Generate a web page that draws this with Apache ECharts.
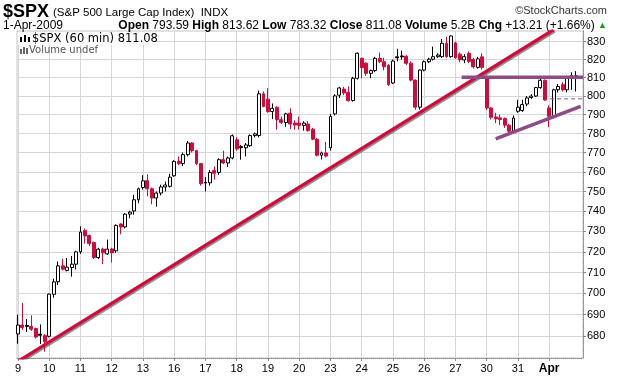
<!DOCTYPE html>
<html><head><meta charset="utf-8">
<script src="https://cdn.jsdelivr.net/npm/echarts@6/dist/echarts.min.js"></script>
<style>html,body{margin:0;padding:0;background:#fff}#c{width:620px;height:376px}</style>
</head><body><div id="c"></div>
<script>
// Trading days (7 hourly bars each)
const dayLabels = ['9','10','11','12','13','16','17','18','19','20','23','24','25','26','27','30','31','Apr'];
const barsPerDay = 7;

const opens = [
 681.1,685.2,685.0,684.6,683.6,681.0,680.3,
 680.0,699.6,705.6,713.2,711.0,712.4,714.0,
 720.0,730.4,728.0,724.5,717.2,721.3,719.0,
 721.4,720.5,733.7,732.2,738.6,740.2,745.8,
 752.0,755.5,751.4,746.7,749.2,752.3,752.6,
 758.0,765.4,764.3,768.9,775.0,771.0,764.3,
 754.6,754.4,760.7,759.7,766.3,764.6,767.2,
 776.7,773.2,772.5,773.6,778.9,778.9,801.2,
 798.3,791.7,794.0,787.3,785.8,790.8,785.5,
 785.5,784.3,785.0,782.3,777.0,768.6,769.8,
 772.5,790.4,800.5,803.8,802.0,797.6,809.7,
 820.7,818.0,812.4,813.9,820.7,818.8,816.9,
 807.1,821.5,822.0,821.8,818.0,808.7,794.0,
 814.2,818.8,820.2,821.6,821.6,829.1,821.6,
 829.3,823.0,819.8,823.5,820.0,815.7,821.5,
 810.5,793.6,788.8,788.3,788.0,784.4,781.2,
 791.8,792.2,795.7,799.2,800.0,804.6,808.6,
 793.59,789.3,803.4,806.2,803.4,809.8,810.5
];
const closes = [
 685.2,684.1,684.6,683.3,679.7,680.5,677.5,
 699.7,705.5,713.2,711.6,712.6,714.0,720.0,
 729.7,727.8,724.0,717.3,721.3,719.5,721.3,
 719.5,733.0,732.2,738.6,739.6,745.8,751.4,
 755.4,751.4,746.7,749.2,752.3,753.3,757.3,
 765.4,764.3,768.9,775.0,771.0,764.3,754.0,
 754.3,759.7,759.3,766.3,764.6,767.2,778.8,
 771.9,772.6,774.0,778.9,779.8,801.2,794.3,
 791.7,793.4,787.3,785.8,790.4,785.0,784.5,
 784.3,785.5,781.5,777.0,768.6,769.8,768.2,
 789.0,800.1,804.4,801.7,797.6,809.7,823.5,
 815.5,812.4,813.9,820.7,818.8,816.0,806.2,
 819.2,821.0,821.5,817.9,808.7,794.0,814.2,
 818.8,820.2,821.6,822.5,829.1,821.6,833.2,
 821.0,819.9,821.6,819.0,816.0,820.4,815.7,
 793.6,788.6,787.8,787.4,784.4,781.2,788.2,
 794.0,795.4,799.0,800.0,804.6,808.6,797.87,
 789.1,803.4,805.2,803.4,809.8,811.1,811.08
];
const lows = [
 676.6,683.0,682.0,682.5,679.0,676.5,673.0,
 679.5,698.0,704.0,711.0,710.5,708.0,711.5,
 719.0,724.0,722.8,716.5,716.5,714.0,718.5,
 714.8,719.5,728.6,731.5,736.5,738.3,744.0,
 751.0,747.5,743.5,742.3,748.0,750.0,752.0,
 757.5,763.5,763.0,768.0,770.0,763.5,753.0,
 750.0,753.0,756.0,758.5,764.0,762.5,766.5,
 771.0,766.3,768.0,773.0,778.0,778.0,794.0,
 791.0,787.6,782.0,785.0,783.5,782.4,782.0,
 782.0,781.5,781.0,776.5,768.0,766.4,767.5,
 771.0,789.5,799.0,800.5,797.0,797.0,809.0,
 809.7,811.0,809.7,813.0,818.0,814.0,805.5,
 806.5,819.0,820.0,817.0,808.0,792.6,792.7,
 813.5,818.0,819.5,821.0,821.0,821.0,821.0,
 820.5,818.5,818.0,818.0,815.0,815.0,814.5,
 792.5,787.5,785.5,784.5,783.0,779.5,780.5,
 791.0,791.5,794.5,798.5,799.5,804.0,797.5,
 783.32,788.0,802.0,802.5,802.0,803.4,802.5
];
const highs = [
 690.0,695.5,688.0,689.7,684.0,685.5,681.0,
 700.0,707.0,715.3,716.6,717.0,718.0,720.5,
 732.5,731.5,728.5,725.0,722.0,722.0,726.0,
 722.0,733.5,734.0,739.0,740.3,748.3,752.0,
 758.3,758.8,752.0,750.0,753.5,755.0,759.0,
 766.0,768.0,770.0,776.0,775.5,771.5,764.5,
 757.3,761.0,762.8,767.0,771.0,768.0,779.5,
 778.0,774.0,775.0,779.5,780.5,803.0,802.5,
 804.3,796.0,794.5,789.0,791.0,793.4,787.0,
 789.0,786.5,786.5,783.0,777.5,770.5,775.5,
 790.4,801.0,805.0,805.0,805.3,810.5,824.0,
 821.0,818.5,814.5,821.5,823.9,821.0,817.5,
 820.0,826.0,825.0,822.5,819.0,809.0,814.5,
 819.5,821.0,827.2,823.5,831.5,832.8,833.5,
 830.0,824.0,823.0,824.5,821.0,821.5,823.5,
 811.0,794.0,791.0,790.0,788.5,785.0,789.6,
 798.0,798.0,800.0,801.0,805.0,809.7,809.0,
 795.0,804.0,806.5,807.5,811.0,813.0,813.62
];
// bars drawn filled black (close below open but above prior close)
const blackBars = [2,5,42,50,85,86];

const yTicks = [680,690,700,710,720,730,740,750,760,770,780,790,800,810,820,830];

// Annotation lines: [bar index, price]
const trendRed = [[0,668.6],[120,836.8]];
const resistance = [[99.4,810.2],[126.6,810.2]];
const support = [[107,777.2],[126.05,794.5]];
const dashedLevel = [[119.2,798.5],[126.6,798.5]];

const RED = '#d20a3c';
const PURPLE = '#8d4c86';
const dayTickIdx = dayLabels.map((d,i)=>i*barsPerDay);

const candleData = opens.map((o,i)=>{
  const item = {value:[i,o,closes[i],lows[i],highs[i]]};
  if (blackBars.indexOf(i) >= 0) item.itemStyle = {color:'#000',color0:'#000',borderColor:'#000',borderColor0:'#000'};
  return item;
});

const chart = echarts.init(document.getElementById('c'), null, {renderer:'canvas'});
const FONT = '"Liberation Sans", Arial, sans-serif';
chart.setOption({
  animation:false,
  backgroundColor:'#fff',
  grid:{left:17,right:37,top:31,bottom:18,show:true,borderColor:'#c4c4c4',borderWidth:1},
  xAxis:{
    type:'value', min:-0.22, max:126.57,
    axisLine:{show:true,onZero:false,lineStyle:{color:'#888',type:'dotted'}},
    axisTick:{show:true,customValues:dayTickIdx,length:3,lineStyle:{color:'#888'}},
    axisLabel:{customValues:dayTickIdx,margin:5,color:'#000',fontSize:11,fontFamily:FONT,
      formatter:v=>{const l=dayLabels[Math.round(v/barsPerDay)]; return l==='Apr'?'{b|Apr}':l;},
      rich:{b:{fontWeight:'bold',fontSize:12,fontFamily:FONT,color:'#000'}}},
    splitLine:{show:true,lineStyle:{color:'#d6d6d6',width:1}}
  },
  yAxis:{
    type:'log', logBase:10, position:'right', min:670.1, max:836,
    axisLine:{show:true,onZero:false,lineStyle:{color:'#888',type:'dotted'}},
    axisTick:{show:true,customValues:yTicks,length:3,lineStyle:{color:'#888'}},
    axisLabel:{customValues:yTicks,margin:4,color:'#000',fontSize:11,fontFamily:FONT},
    splitLine:{show:true,lineStyle:{color:'#d6d6d6',width:1}}
  },
  series:[
    {type:'candlestick', data:candleData, encode:{x:0,y:[1,2,3,4]}, barWidth:3.4, z:3,
     itemStyle:{color:'#fff',color0:RED,borderColor:'#000',borderColor0:RED,borderWidth:1}},
    {type:'line', data:trendRed, symbol:'none', clip:true, z:4,
     lineStyle:{color:RED,width:3.2,shadowColor:'rgba(70,70,70,0.6)',shadowBlur:0,shadowOffsetX:1,shadowOffsetY:1.5}},
    {type:'line', data:resistance, symbol:'none', clip:true, z:4, lineStyle:{color:PURPLE,width:3.5}},
    {type:'line', data:support, symbol:'none', clip:true, z:4, lineStyle:{color:PURPLE,width:3.5}},
    {type:'line', data:dashedLevel, symbol:'none', clip:true, z:4, lineStyle:{color:PURPLE,width:1,type:[4,3]}}
  ],
  graphic:[
    {type:'text', left:3, top:3, style:{text:'$SPX', font:'bold 18px '+FONT, fill:'#000'}},
    {type:'text', left:53, top:7, style:{text:'(S&P 500 Large Cap Index)  INDX', font:'11.5px '+FONT, fill:'#000'}},
    {type:'text', right:13, top:5, style:{text:'©StockCharts.com', font:'11px '+FONT, fill:'#333'}},
    {type:'text', left:3, top:20, style:{text:'1-Apr-2009', font:'12px '+FONT, fill:'#000'}},
    {type:'text', right:13, top:20, style:{
      text:'{b|Open} 793.59 {b|High} 813.62 {b|Low} 783.32 {b|Close} 811.08 {b|Volume} 5.2B {b|Chg} +13.21 (+1.66%) {g|▲}',
      font:'12px '+FONT, fill:'#000',
      rich:{b:{font:'bold 12px '+FONT, fill:'#000'}, g:{font:'9px '+FONT, fill:'#1a9a1a'}}}},
    {type:'rect', left:18, top:32, z:20, shape:{width:138,height:13}, style:{fill:'#fff'}},
    {type:'text', left:32, top:33, z:21, style:{text:'$SPX (60 min) 811.08', font:'11.5px "DejaVu Sans", sans-serif', fill:'#000'}},
    {type:'text', left:29, top:45, z:21, style:{text:'Volume undef', font:'10px "DejaVu Sans", sans-serif', fill:'#555'}},
    {type:'group', left:20, top:35, z:21, children:[
      {type:'rect', z:21, shape:{x:0,y:2,width:2,height:5}, style:{fill:'#000'}},
      {type:'rect', z:21, shape:{x:4,y:0,width:2,height:7}, style:{fill:'#000'}},
      {type:'rect', z:21, shape:{x:8,y:2,width:2,height:5}, style:{fill:'#000'}}
    ]},
    {type:'group', left:20, top:47, z:21, children:[
      {type:'rect', z:21, shape:{x:0,y:3,width:2,height:5}, style:{fill:'#666'}},
      {type:'rect', z:21, shape:{x:3,y:1,width:2,height:7}, style:{fill:'#666'}},
      {type:'rect', z:21, shape:{x:6,y:2,width:2,height:6}, style:{fill:'#666'}}
    ]}
  ]
});
</script></body></html>
